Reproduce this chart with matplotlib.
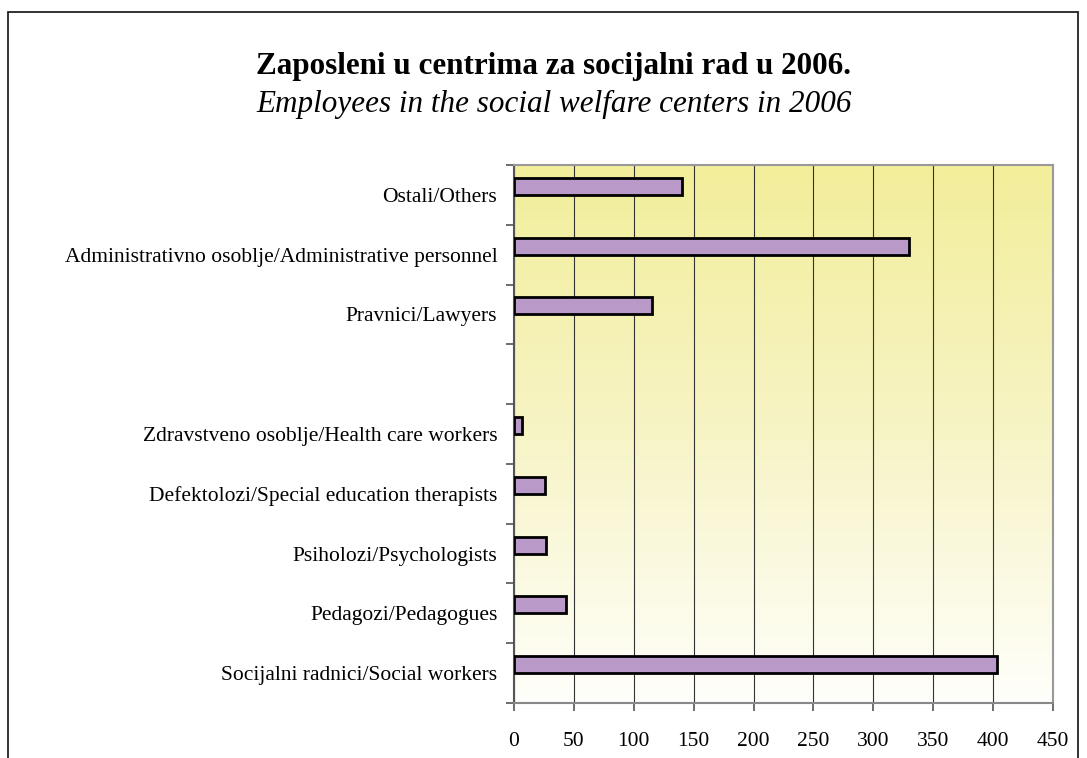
import matplotlib.pyplot as plt
import numpy as np
from matplotlib.colors import LinearSegmentedColormap
from matplotlib.patches import Rectangle

# data (bottom to top)
categories = [
    'Socijalni radnici/Social workers',
    'Pedagozi/Pedagogues',
    'Psiholozi/Psychologists',
    'Defektolozi/Special education therapists',
    'Zdravstveno osoblje/Health care workers',
    '',
    'Pravnici/Lawyers',
    'Administrativno osoblje/Administrative personnel',
    'Ostali/Others',
]
employees = [403, 43, 27, 26, 7, 0, 115, 330, 140]
x_ticks = [0, 50, 100, 150, 200, 250, 300, 350, 400, 450]

plt.rcParams['font.family'] = ['Liberation Serif', 'DejaVu Serif']

fig = plt.figure(figsize=(10.87, 7.58), dpi=100)
W, H = 1087, 758
ax = fig.add_axes([514 / W, 1 - 703 / H, (1053 - 514) / W, (703 - 165) / H])

# outer frame
fig.patches.append(Rectangle((8 / W, -0.1), (1078 - 8) / W, 1.1 - 12 / H,
                             transform=fig.transFigure, fill=False,
                             edgecolor='#222222', linewidth=1.3))

# background gradient (yellow top -> white bottom)
cmap = LinearSegmentedColormap.from_list('bg', ['#fffffb', '#f7f4c6', '#f2ee9a'])
grad = np.linspace(0, 1, 256).reshape(-1, 1)
ax.imshow(grad, extent=[0, 450, -0.5, len(categories) - 0.5], origin='lower',
          aspect='auto', cmap=cmap, zorder=0)

y = np.arange(len(categories))
h = 0.284
vals = [v if v > 0 else np.nan for v in employees]
ax.barh(y + h / 2, vals, height=h, color='#b899c8', edgecolor='black',
        linewidth=2, zorder=3)

ax.set_xlim(0, 450)
ax.set_ylim(-0.5, len(categories) - 0.5)
ax.set_xticks(x_ticks)
ax.set_xticklabels([str(t) for t in x_ticks], fontsize=15.5)
ax.grid(axis='x', color='#333333', linewidth=0.8, zorder=1)

ax.set_yticks(np.arange(len(categories) + 1) - 0.5)
ax.set_yticklabels([])
ax.set_yticks(y, minor=True)
ax.set_yticklabels(categories, minor=True, fontsize=15.5)
ax.tick_params(axis='y', which='minor', length=0, pad=12)
ax.tick_params(axis='y', which='major', length=5.5, color='#555555', width=1.2)
ax.tick_params(axis='x', length=6, color='#555555', width=1.2, pad=15)

for s in ['top', 'right']:
    ax.spines[s].set_color('#999999')
    ax.spines[s].set_linewidth(1.5)
ax.spines['left'].set_color('#555555')
ax.spines['left'].set_linewidth(1.5)
ax.spines['bottom'].set_color('#888888')
ax.spines['bottom'].set_linewidth(1.5)

fig.text(554 / W, 1 - 74 / H, 'Zaposleni u centrima za socijalni rad u 2006.',
         ha='center', va='baseline', fontsize=22.4, fontweight='bold')
fig.text(554 / W, 1 - 112 / H, 'Employees in the social welfare centers in 2006',
         ha='center', va='baseline', fontsize=22.4, style='italic')

plt.savefig('out.png', dpi=100)
